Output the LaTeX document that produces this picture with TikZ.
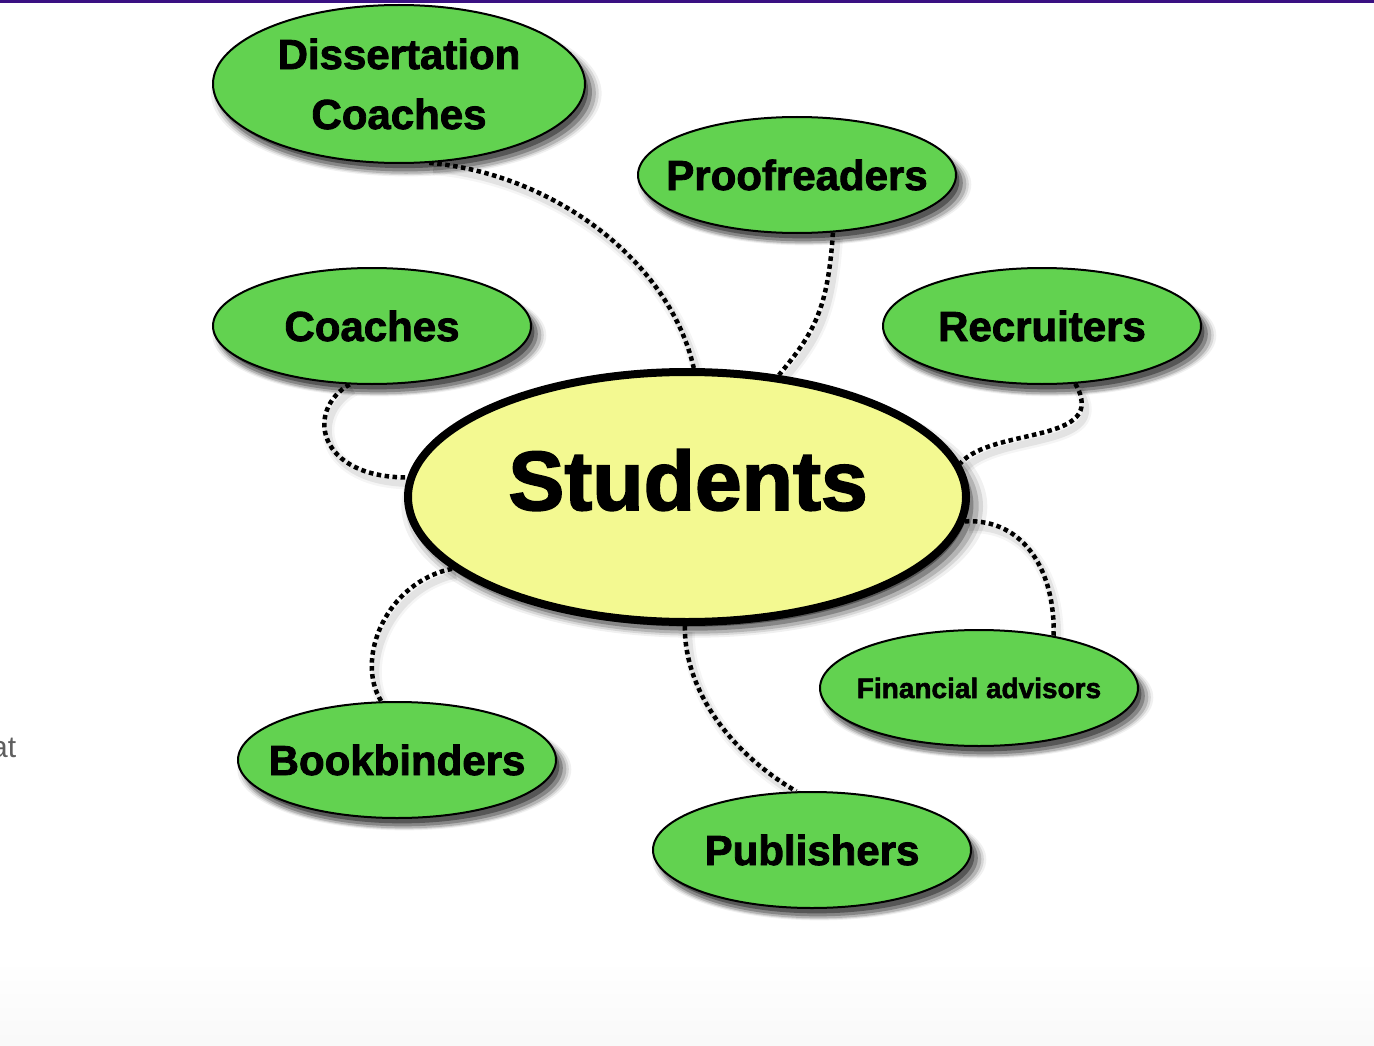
\documentclass[tikz,border=0pt]{standalone}
\usepackage{fontspec}
\setmainfont{Liberation Sans}[BoldFeatures={FakeBold=2}]
\usetikzlibrary{shapes.geometric,shadows,calc,backgrounds}
\definecolor{leaf}{RGB}{98,210,80}
\definecolor{pale}{RGB}{243,249,145}
\definecolor{topbar}{RGB}{58,16,130}
\definecolor{atgray}{RGB}{95,95,95}
\pgfdeclarelayer{base}
\pgfsetlayers{base,background,main}
\newcommand\tx[1]{\makebox[0pt][c]{#1}}
\begin{document}
\begin{tikzpicture}[x=1pt,y=-1pt,
  soft/.style={
    general shadow={fill=black,opacity=0.06,shadow xshift=7pt,shadow yshift=-9pt,shadow scale=1.05},
    general shadow={fill=black,opacity=0.10,shadow xshift=7pt,shadow yshift=-9pt,shadow scale=1.035},
    general shadow={fill=black,opacity=0.16,shadow xshift=7pt,shadow yshift=-9pt,shadow scale=1.02},
    general shadow={fill=black,opacity=0.25,shadow xshift=6pt,shadow yshift=-8pt,shadow scale=1.005},
    general shadow={fill=black,opacity=0.35,shadow xshift=5pt,shadow yshift=-6pt,shadow scale=0.99}},
  bubble/.style={ellipse, draw=black, line width=2pt, fill=leaf, inner sep=0pt,
    minimum width=318pt, minimum height=116pt, align=center, soft,
    font=\bfseries\fontsize{42}{60}\selectfont},
  link/.style={
    preaction={draw, solid, line width=12pt, opacity=0.04, transform canvas={shift={(4pt,-6pt)}}},
    preaction={draw, solid, line width=7pt, opacity=0.07, transform canvas={shift={(4pt,-6pt)}}},
    draw=black, line width=4.5pt, dash pattern=on 4.5pt off 3.5pt}
]
\useasboundingbox (0,0) rectangle (1374,1046);
\begin{pgfonlayer}{base}
\fill[white] (0,0) rectangle (1374,1046);
\fill[top color=white, bottom color=gray!5] (0,960) rectangle (1374,1046);
\fill[topbar] (0,0) rectangle (1374,3);
\end{pgfonlayer}

\node[anchor=base west, text=atgray, inner sep=0pt, font=\fontsize{30}{30}\selectfont] (at) at (-9,757) {at};

\node[bubble, minimum width=372pt, minimum height=158pt] (dc) at (399,84) {\tx{Dissertation}\\\tx{Coaches}};
\node[bubble] (pr) at (797,175) {\tx{Proofreaders}};
\node[bubble] (co) at (372,326) {\tx{Coaches}};
\node[bubble] (re) at (1042,326) {\tx{Recruiters}};
\node[bubble, font=\bfseries\fontsize{28}{34}\selectfont] (fa) at (979,688) {\tx{Financial advisors}};
\node[bubble] (bb) at (397,760) {\tx{Bookbinders}};
\node[bubble] (pu) at (812,850) {\tx{Publishers}};
\node[ellipse, draw=black, line width=8pt, fill=pale, inner sep=0pt,
  minimum width=558pt, minimum height=250pt, soft] (st) at (687,497) {};
\node[inner sep=0pt, font=\bfseries\fontsize{84}{84}\selectfont] (stt) at (688,480) {Students};

\begin{scope}[on background layer]
\draw[link] (dc.-69) .. controls +(120,10) and +(-25,-110) .. (st.87);
\draw[link] (pr.-58) .. controls +(-5,77) and +(35,-42) .. (st.53);
\draw[link] (co.-111) .. controls +(-45,26) and +(-90,0) .. (st.176);
\draw[link] (re.-60) .. controls +(35,61) and +(32,-37) .. (st.7);
\draw[link] (st.-5) .. controls +(60,-3) and +(2,-63) .. (fa.35);
\draw[link] (st.-163) .. controls +(-65,13) and +(-27,-43) .. (bb.105);
\draw[link] (st.-91) .. controls +(0,72) and +(-57,-33) .. (pu.105);
\end{scope}
\end{tikzpicture}
\end{document}
